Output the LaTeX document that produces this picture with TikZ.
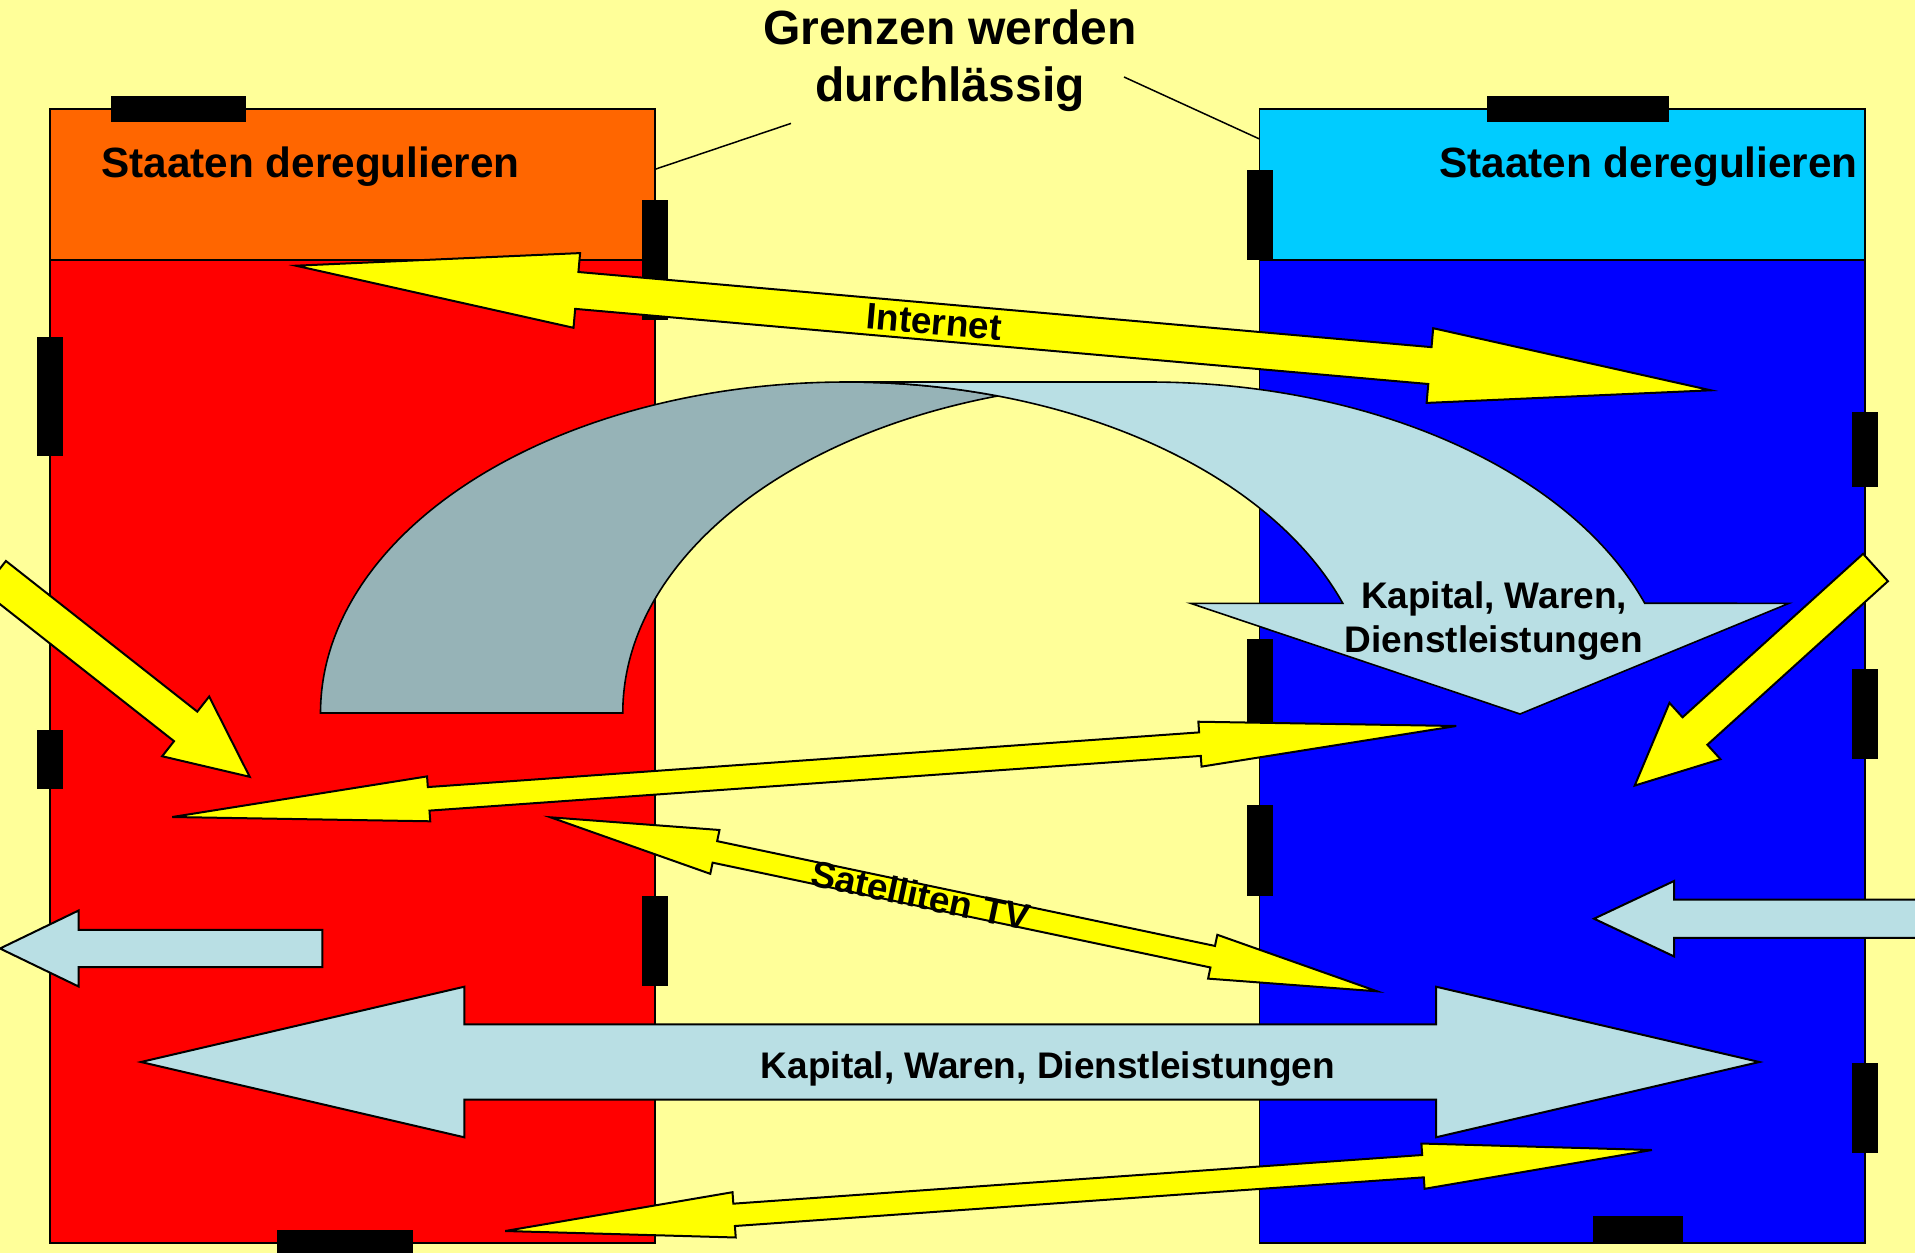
\documentclass[tikz,border=0pt]{standalone}
\usepackage{fontspec}
\setmainfont{Liberation Sans}
\usetikzlibrary{calc}
\definecolor{bgyel}{RGB}{255,255,153}
\definecolor{orng}{RGB}{255,102,0}
\definecolor{cyn}{RGB}{0,204,255}
\definecolor{bluebox}{RGB}{0,0,255}
\definecolor{redbox}{RGB}{255,0,0}
\definecolor{lblue}{RGB}{185,223,228}
\definecolor{gblue}{RGB}{150,179,183}
\definecolor{ylw}{RGB}{255,255,0}

\newcommand{\dbarrow}[6]{%
  \coordinate (hA) at ($(#2)!#4!(#3)$);
  \coordinate (hB) at ($(#3)!#4!(#2)$);
  \draw[#1] (#2) -- ($(hA)!#5!90:(#3)$) -- ($(hA)!#6!90:(#3)$)
     -- ($(hB)!#6!-90:(#2)$) -- ($(hB)!#5!-90:(#2)$) -- (#3)
     -- ($(hB)!#5!90:(#2)$) -- ($(hB)!#6!90:(#2)$)
     -- ($(hA)!#6!-90:(#3)$) -- ($(hA)!#5!-90:(#3)$) -- cycle;
}
\newcommand{\sgarrow}[6]{%
  \coordinate (hP) at ($(#3)!#4!(#2)$);
  \draw[#1] (#3) -- ($(hP)!#5!90:(#2)$) -- ($(hP)!#6!90:(#2)$)
     -- ($(#2)!#6!-90:(#3)$) -- ($(#2)!#6!90:(#3)$)
     -- ($(hP)!#6!-90:(#2)$) -- ($(hP)!#5!-90:(#2)$) -- cycle;
}

\begin{document}
\begin{tikzpicture}[x=1pt,y=-1pt,
  boxline/.style={draw=black,line width=1.8pt},
  bar/.style={fill=black},
  yarrow/.style={fill=ylw,draw=black,line width=2pt,line join=miter},
  barrow/.style={fill=lblue,draw=black,line width=2pt,line join=miter},
  curvarrow/.style={draw=black,line width=1.6pt},
  leader/.style={draw=black,line width=1.5pt},
  statelbl/.style={font=\fontsize{42.3}{50}\selectfont\bfseries,inner sep=0pt},
  titlelbl/.style={font=\fontsize{48}{57}\selectfont\bfseries,inner sep=0pt},
  arrlbl/.style={font=\fontsize{37}{44}\selectfont\bfseries,inner sep=0pt}]
\useasboundingbox (0,0) rectangle (1915,1253);
\clip (0,0) rectangle (1915,1253);
\fill[bgyel] (0,0) rectangle (1915,1253);

% boxes
\draw[boxline,fill=redbox] (50,260) rectangle (655,1243.3);
\draw[boxline,fill=orng] (50,108.7) rectangle (655,260);
\draw[boxline,fill=bluebox] (1259.5,260) rectangle (1865,1243.3);
\draw[boxline,fill=cyn] (1259.5,108.7) rectangle (1865,260);

% border bars
\fill[bar] (110.7,96) rectangle (246.4,122.3);
\fill[bar] (642,200) rectangle (668,320);
\fill[bar] (36.7,336.6) rectangle (63.3,456);
\fill[bar] (36.7,730) rectangle (63.3,789);
\fill[bar] (642,895.7) rectangle (668,986);
\fill[bar] (277.4,1230) rectangle (413.3,1260);
\fill[bar] (1487,96) rectangle (1668.6,122);
\fill[bar] (1247,170) rectangle (1273,260);
\fill[bar] (1247,639) rectangle (1273,721.7);
\fill[bar] (1247,805) rectangle (1273,895.7);
\fill[bar] (1851.7,411.6) rectangle (1878.3,487);
\fill[bar] (1851.7,668.8) rectangle (1878.3,759);
\fill[bar] (1851.7,1062.6) rectangle (1878.3,1153);
\fill[bar] (1593,1215.7) rectangle (1683,1241.7);

% texts
\node[statelbl,anchor=base west] (stL) at (101,177) {Staaten deregulieren};
\node[statelbl,anchor=base east] (stR) at (1858,177) {Staaten deregulieren};
\node[titlelbl,anchor=base] (t1) at (950,44) {Grenzen werden};
\node[titlelbl,anchor=base] (t2) at (950,101) {durchlässig};

% leader lines
\coordinate (ldL) at (791,123.4);
\coordinate (ldLb) at (655,169.3);
\coordinate (ldR) at (1124,77);
\coordinate (ldRb) at (1259.5,139);
\draw[leader] (ldL) -- (ldLb);
\draw[leader] (ldR) -- (ldRb);

% curved arrow (Kapital, Waren, Dienstleistungen)
\draw[curvarrow,fill=gblue] (320.5,713)
   arc[start angle=180,end angle=73.3,x radius=526pt,y radius=331pt]
   arc[start angle=106.7,end angle=180,x radius=526pt,y radius=331pt] -- cycle;
\draw[curvarrow,fill=lblue] (846.5,382) -- (1148.5,382)
   arc[start angle=90,end angle=19.36,x radius=526pt,y radius=331pt]
   -- (1789,603.3) -- (1520,714) -- (1190.5,603.3) -- (1342.8,603.3)
   arc[start angle=19.36,end angle=90,x radius=526pt,y radius=331pt] -- cycle;
\node[arrlbl,anchor=base] (kw1) at (1494,608) {Kapital, Waren,};
\node[arrlbl,anchor=base] (kw2) at (1494,652) {Dienstleistungen};

% yellow double arrows
\coordinate (inL) at (295.9,265.7);
\coordinate (inR) at (1710.8,390.3);
\dbarrow{yarrow}{inL}{inR}{282pt}{37.5pt}{18.5pt}
\node[arrlbl,rotate=-5.03] (inet) at ($(inL)!0.451!(inR)$) {Internet};

\coordinate (mdL) at (172.3,817);
\coordinate (mdR) at (1456.3,726);
\dbarrow{yarrow}{mdL}{mdR}{257pt}{22.5pt}{11.8pt}

\coordinate (stvL) at (550.5,817.3);
\coordinate (stvR) at (1377.1,991.3);
\dbarrow{yarrow}{stvL}{stvR}{168pt}{22.4pt}{11pt}
\node[arrlbl,rotate=-11.9] (sat) at ($(stvL)!0.4475!(stvR)$) {Satelliten TV};

\coordinate (btL) at (505.2,1231);
\coordinate (btR) at (1651.9,1150);
\dbarrow{yarrow}{btL}{btR}{229.5pt}{22.7pt}{11.2pt}

% big light blue double arrow
\coordinate (kwL) at (141,1062);
\coordinate (kwR) at (1759.3,1062);
\dbarrow{barrow}{kwL}{kwR}{323.3pt}{75.3pt}{37.6pt}
\node[arrlbl,anchor=base] (kw3) at (1048,1078) {Kapital, Waren, Dienstleistungen};

% yellow single arrows
\coordinate (dgLt) at (-5.7,575.75);
\coordinate (dgLp) at (249.7,776.8);
\sgarrow{yarrow}{dgLt}{dgLp}{81.5pt}{38pt}{18.8pt}
\coordinate (dgRt) at (1875.5,567.5);
\coordinate (dgRp) at (1634.7,785.6);
\sgarrow{yarrow}{dgRt}{dgRp}{81.3pt}{38pt}{18.5pt}

% light blue single arrows
\coordinate (lbLt) at (322.3,948.5);
\coordinate (lbLp) at (0,948.5);
\sgarrow{barrow}{lbLt}{lbLp}{78.6pt}{38pt}{18.65pt}
\coordinate (lbRt) at (1945,918.7);
\coordinate (lbRp) at (1594,918.7);
\sgarrow{barrow}{lbRt}{lbRp}{80pt}{37.7pt}{19.1pt}
\end{tikzpicture}
\end{document}
